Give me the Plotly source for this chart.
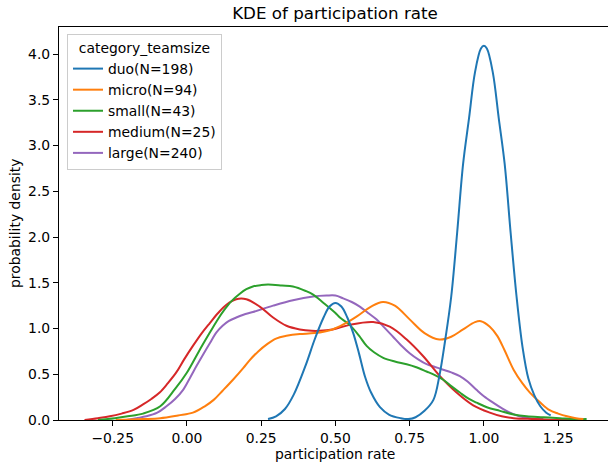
import plotly.graph_objects as go

# Kernel density estimates of participation rate per team-size category
categories = ["duo", "micro", "small", "medium", "large"]
counts = [198, 94, 43, 25, 240]
colors = ["#1f77b4", "#ff7f0e", "#2ca02c", "#d62728", "#9467bd"]

duo_x = [0.273, 0.30, 0.33, 0.36, 0.40, 0.43, 0.46, 0.48, 0.50, 0.52, 0.54, 0.56, 0.58,
         0.60, 0.62, 0.65, 0.68, 0.72, 0.745, 0.77, 0.80, 0.83, 0.85, 0.87, 0.89, 0.91,
         0.93, 0.95, 0.97, 0.99, 1.00, 1.01, 1.03, 1.05, 1.07, 1.09, 1.11, 1.13, 1.15,
         1.17, 1.19, 1.21, 1.225]
duo_y = [0.01, 0.04, 0.12, 0.28, 0.60, 0.88, 1.12, 1.24, 1.28, 1.24, 1.12, 0.95, 0.72,
         0.47, 0.30, 0.14, 0.06, 0.02, 0.01, 0.03, 0.10, 0.22, 0.48, 0.88, 1.35, 2.05,
         2.80, 3.30, 3.80, 4.06, 4.09, 4.06, 3.80, 3.30, 2.80, 2.05, 1.35, 0.80, 0.45,
         0.27, 0.15, 0.08, 0.05]

micro_x = [-0.24, -0.15, -0.09, -0.03, 0.02, 0.06, 0.09, 0.12, 0.155, 0.19, 0.21, 0.24,
           0.27, 0.30, 0.335, 0.38, 0.43, 0.49, 0.53, 0.571, 0.62, 0.66, 0.70, 0.75, 0.80,
           0.85, 0.89, 0.93, 0.97, 0.99, 1.02, 1.045, 1.07, 1.10, 1.13, 1.155, 1.19, 1.22,
           1.25, 1.28, 1.31, 1.335]
micro_y = [0.0, 0.01, 0.02, 0.05, 0.08, 0.15, 0.22, 0.32, 0.44, 0.57, 0.65, 0.75,
           0.83, 0.89, 0.92, 0.94, 0.95, 0.99, 1.05, 1.13, 1.24, 1.29, 1.25, 1.10, 0.95,
           0.88, 0.91, 0.99, 1.07, 1.08, 1.02, 0.92, 0.76, 0.55, 0.40, 0.30, 0.19, 0.11,
           0.07, 0.04, 0.02, 0.01]

small_x = [-0.30, -0.243, -0.20, -0.148, -0.09, -0.04, 0.00, 0.04, 0.076, 0.10, 0.125,
           0.15, 0.178, 0.20, 0.222, 0.25, 0.273, 0.32, 0.357, 0.40, 0.425, 0.46, 0.50, 0.515,
           0.548, 0.58, 0.605, 0.63, 0.661, 0.70, 0.74, 0.77, 0.807, 0.835, 0.863, 0.89,
           0.919, 0.95, 0.975, 1.01, 1.054, 1.10, 1.144, 1.20, 1.256, 1.30, 1.346]
small_y = [0.0, 0.02, 0.04, 0.07, 0.15, 0.34, 0.52, 0.75, 0.95, 1.08, 1.20,
           1.30, 1.38, 1.43, 1.46, 1.475, 1.48, 1.47, 1.46, 1.41, 1.37, 1.28, 1.17, 1.12,
           1.04, 0.92, 0.81, 0.74, 0.68, 0.64, 0.61, 0.58, 0.53, 0.49, 0.44, 0.37,
           0.30, 0.23, 0.19, 0.14, 0.10, 0.06, 0.04, 0.03, 0.02, 0.01, 0.01]

medium_x = [-0.345, -0.30, -0.26, -0.22, -0.18, -0.148, -0.12, -0.092, -0.065, -0.036,
            -0.01, 0.02, 0.05, 0.077, 0.105, 0.133, 0.166, 0.20, 0.245, 0.29, 0.335, 0.38,
            0.42, 0.447, 0.49, 0.548, 0.627, 0.683, 0.74, 0.795, 0.852, 0.908, 0.964, 1.02,
            1.06, 1.10, 1.17, 1.25, 1.33]
medium_y = [0.0, 0.02, 0.04, 0.07, 0.11, 0.17, 0.23, 0.30, 0.40, 0.52,
            0.66, 0.81, 0.95, 1.06, 1.17, 1.26, 1.32, 1.32, 1.24, 1.12, 1.03, 0.99,
            0.975, 0.975, 0.99, 1.04, 1.07, 1.02, 0.88, 0.70, 0.48, 0.30, 0.16, 0.08,
            0.04, 0.02, 0.01, 0.0, 0.0]

large_x = [-0.204, -0.17, -0.137, -0.10, -0.069, -0.04, -0.013, 0.01, 0.032, 0.055, 0.077,
           0.10, 0.12, 0.14, 0.166, 0.19, 0.222, 0.29, 0.357, 0.425, 0.47, 0.50, 0.526,
           0.555, 0.582, 0.61, 0.638, 0.665, 0.694, 0.72, 0.75, 0.78, 0.807, 0.835, 0.863,
           0.89, 0.919, 0.945, 0.975, 1.00, 1.031, 1.06, 1.088, 1.12, 1.155, 1.20]
large_y = [0.0, 0.02, 0.04, 0.08, 0.15, 0.23, 0.33, 0.46, 0.59, 0.72, 0.84,
           0.96, 1.03, 1.08, 1.12, 1.15, 1.18, 1.25, 1.31, 1.35, 1.36, 1.36, 1.33,
           1.29, 1.24, 1.17, 1.10, 1.01, 0.91, 0.82, 0.73, 0.66, 0.61, 0.58, 0.55,
           0.52, 0.48, 0.42, 0.33, 0.26, 0.19, 0.13, 0.08, 0.04, 0.02, 0.01]

xs = [duo_x, micro_x, small_x, medium_x, large_x]
ys = [duo_y, micro_y, small_y, medium_y, large_y]

x_ticks = [-0.25, 0.0, 0.25, 0.5, 0.75, 1.0, 1.25]
y_ticks = [0.0, 0.5, 1.0, 1.5, 2.0, 2.5, 3.0, 3.5, 4.0]

FONT = "DejaVu Sans"

fig = go.Figure()
# draw the last category first so "duo" sits on top
for i in reversed(range(len(categories))):
    fig.add_trace(go.Scatter(
        x=xs[i], y=ys[i], mode="lines",
        name=f"{categories[i]}(N={counts[i]})",
        line=dict(color=colors[i], width=2, shape="spline", smoothing=1.0),
    ))

axis_common = dict(
    showgrid=False, zeroline=False, showline=True, linecolor="black", linewidth=1.1,
    ticks="outside", ticklen=5, tickwidth=1.1, tickcolor="black",
    tickfont=dict(family=FONT, size=13.9, color="black"),
)

fig.update_layout(
    width=608, height=465,
    margin=dict(l=59, r=0, t=27, b=45),
    paper_bgcolor="white", plot_bgcolor="white",
    font=dict(family=FONT, size=13.9, color="black"),
    title=dict(text="KDE of participation rate", x=335 / 608, xref="container",
               xanchor="center", y=1 - 13 / 465, yref="container", yanchor="middle",
               font=dict(family=FONT, size=16.7, color="black")),
    xaxis=dict(range=[-0.431, 1.418], tickvals=x_ticks,
               ticktext=[f"{v:.2f}".replace("-", "\u2212") for v in x_ticks],
               mirror=True, **axis_common),
    yaxis=dict(range=[0, 4.296], tickvals=y_ticks,
               ticktext=[f"{v:.1f}" for v in y_ticks], **axis_common),
    legend=dict(
        x=(67 - 59) / 549, y=(420 - 34) / 393, xanchor="left", yanchor="top",
        traceorder="reversed",
        title=dict(text="category_teamsize", side="top center",
                   font=dict(family=FONT, size=13.9, color="black")),
        font=dict(family=FONT, size=13.9, color="black"),
        bgcolor="rgba(255,255,255,0.8)", bordercolor="#cccccc", borderwidth=1,
    ),
    showlegend=True,
    annotations=[
        dict(text="participation rate", xref="paper", yref="paper",
             x=(335 - 59) / 549, y=-(454 - 420) / 393, xanchor="center", yanchor="middle",
             showarrow=False, font=dict(family=FONT, size=13.9, color="black")),
        dict(text="probability density", xref="paper", yref="paper",
             x=(15 - 59) / 549, y=(420 - 224) / 393, xanchor="center", yanchor="middle",
             textangle=-90, showarrow=False,
             font=dict(family=FONT, size=13.9, color="black")),
    ],
)

fig.write_html("out.html")
